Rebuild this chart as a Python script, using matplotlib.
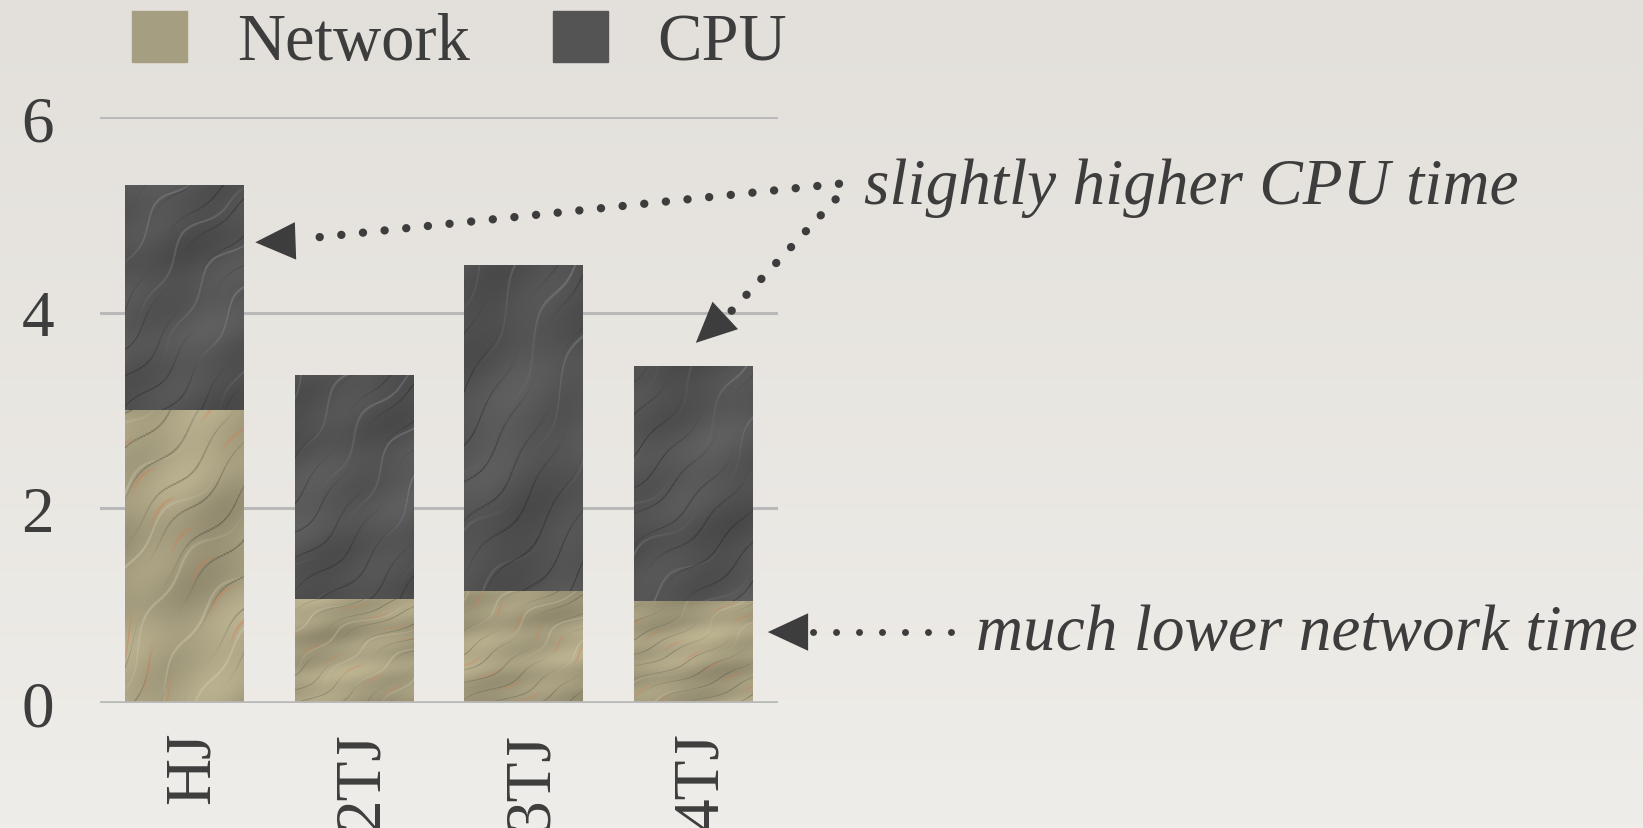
import numpy as np
import matplotlib
matplotlib.use("Agg")
import matplotlib.pyplot as plt
import matplotlib.transforms as mtransforms
from matplotlib.patches import Patch

categories = ["HJ", "2TJ", "3TJ", "4TJ"]
network = [3.00, 1.07, 1.15, 1.05]
cpu = [2.30, 2.29, 3.34, 2.40]
yticks = [0, 2, 4, 6]

ink = "#3d3d3d"
grid_col = "#b9b9b9"
net_col = (0.65, 0.62, 0.50)
cpu_col = (0.33, 0.33, 0.33)

plt.rcParams["font.family"] = ["Liberation Serif", "DejaVu Serif"]
fs = 47


def stone(base, vein, spot, n=200, m=120, k=0.0):
    # slate-like texture: soft mottling plus thin diagonal veins
    y, x = np.mgrid[0:n, 0:m] / 30.0
    u = 0.7 * x + 0.7 * y
    v = -0.7 * x + 0.7 * y
    mott = (np.sin(1.1 * u + 0.7 * v + k) + np.sin(0.6 * v - 1.9 * u + 2 * k)
            + 0.6 * np.sin(3.3 * u + 2.1 * v + k)) / 2.6
    img = np.ones((n, m, 3)) * np.array(base)
    img = img * (1 + 0.14 * mott[..., None])
    wob = 0.35 * np.sin(0.9 * v + k) + 0.15 * np.sin(2.7 * v + 1.3 * k)
    t1 = np.sin(5.0 * (u + wob))
    t2 = np.sin(8.3 * (u + 0.7 * wob) + 1.1)
    light = np.clip((t1 - 0.98) * 50, 0, 1) * (0.5 + 0.5 * np.sin(0.8 * v + k))
    dark = np.clip((t2 - 0.98) * 50, 0, 1) * (0.5 + 0.5 * np.sin(1.1 * v + 2 + k))
    img = img * (1 - 0.4 * light[..., None]) + np.array(vein) * 0.4 * light[..., None]
    img = img * (1 - 0.3 * dark[..., None])
    if spot is not None:
        t3 = np.sin(6.7 * (u + wob) + 2.3)
        sp = np.clip((t3 - 0.96) * 25, 0, 1) * np.clip(np.sin(2.2 * v + 3 * k) - 0.3, 0, 1)
        img = img * (1 - 0.65 * sp[..., None]) + np.array(spot) * 0.65 * sp[..., None]
    return np.clip(img, 0, 1)


fig = plt.figure(figsize=(16.43, 8.29), dpi=100)

# warm paper background
bg = fig.add_axes([0, 0, 1, 1], zorder=-10)
grad = np.linspace(0, 1, 200)[:, None, None]
top = np.array([227, 224, 219]) / 255
bot = np.array([239, 237, 233]) / 255
bg.imshow(top * (1 - grad) + bot * grad, aspect="auto", extent=[0, 1, 0, 1])
bg.set_axis_off()

ax = fig.add_axes([100 / 1643, 1 - 704 / 829, 678 / 1643, 585.6 / 829])
ax.patch.set_alpha(0)

x = np.arange(len(categories))
w = 0.70
bars_net = ax.bar(x, network, w, color=net_col, zorder=2)
bars_cpu = ax.bar(x, cpu, w, bottom=network, color=cpu_col, zorder=2)

for i, (b1, b2) in enumerate(zip(bars_net, bars_cpu)):
    x0 = b1.get_x()
    ax.imshow(stone(net_col, (0.86, 0.84, 0.76), (0.86, 0.47, 0.30), k=i * 1.3),
              extent=[x0, x0 + w, 0, network[i]], aspect="auto", zorder=3)
    ax.imshow(stone(cpu_col, (0.58, 0.60, 0.63), None, k=i * 0.7 + 2),
              extent=[x0, x0 + w, network[i], network[i] + cpu[i]], aspect="auto", zorder=3)

ax.set_xlim(-0.5, 3.5)
ax.set_ylim(0, 6)
ax.set_yticks(yticks)
ax.set_xticks(x)
ax.set_xticklabels(categories, rotation=90, va="top")
ax.tick_params(axis="both", length=0, labelsize=fs, colors=ink)
ax.tick_params(axis="y", pad=33)
ax.tick_params(axis="x", pad=20)
shift = mtransforms.ScaledTranslation(8 / 100, 0, fig.dpi_scale_trans)
for lab in ax.get_xticklabels():
    lab.set_transform(lab.get_transform() + shift)
ax.yaxis.grid(True, color=grid_col, lw=2.2, zorder=1)
for s in ax.spines.values():
    s.set_visible(False)
ax.axhline(0, color=grid_col, lw=2.6, zorder=4)


def dotted(p0, p1, lw=6, gap=2.6):
    ax.plot([p0[0], p1[0]], [p0[1], p1[1]], color=ink, lw=lw,
            linestyle=(0, (0.01, gap)), dash_capstyle="round", clip_on=False, zorder=5)


def head(tip, tail):
    ax.annotate("", xy=tip, xytext=tail, annotation_clip=False,
                arrowprops=dict(arrowstyle="-|>,head_length=2.9,head_width=1.35",
                                color=ink, lw=0, shrinkA=0, shrinkB=0,
                                mutation_scale=10))


# CPU annotation
dotted((3.86, 5.32), (0.72, 4.76))
head((0.416, 4.72), (0.9, 4.75))
dotted((3.84, 5.16), (3.20, 3.97))
head((3.015, 3.69), (3.3, 4.15))
ax.text(4.01, 5.12, "slightly higher CPU time", fontsize=fs, style="italic",
        color=ink, va="baseline", ha="left", clip_on=False)

# network annotation
dotted((4.52, 0.727), (3.64, 0.727), lw=5, gap=3.3)
head((3.44, 0.727), (3.8, 0.727))
ax.text(4.67, 0.553, "much lower network time", fontsize=fs, style="italic",
        color=ink, va="baseline", ha="left", clip_on=False)

handles = [Patch(color=net_col, label="Network"), Patch(color=cpu_col, label="CPU")]
fig.legend(handles=handles, loc="center left", bbox_to_anchor=(132 / 1643, 1 - 43 / 829),
           ncol=2, frameon=False, fontsize=fs + 1, borderpad=0, borderaxespad=0,
           handlelength=0.82, handleheight=0.8, handletextpad=0.75, columnspacing=1.25,
           labelcolor=ink)

fig.savefig("out.png", dpi=100)
